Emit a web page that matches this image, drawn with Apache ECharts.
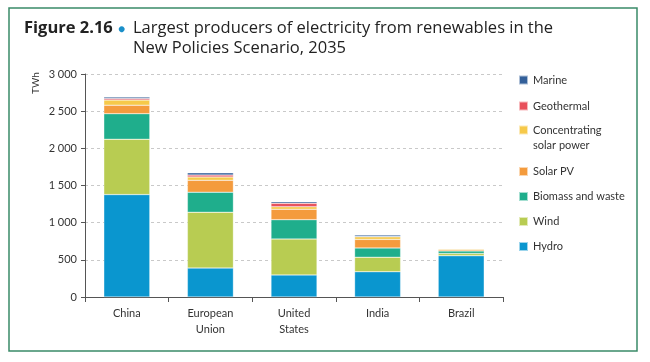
<!DOCTYPE html>
<html>
<head>
<meta charset="utf-8">
<script src="https://cdn.jsdelivr.net/npm/echarts@6/dist/echarts.min.js"></script>
<style>
html,body{margin:0;padding:0;background:#fff;}
#chart{width:650px;height:362px;}
</style>
</head>
<body>
<div id="chart"></div>
<script>
const categories = ['China', 'European\nUnion', 'United\nStates', 'India', 'Brazil'];
const hydro      = [1378, 390, 297, 340, 555];
const wind       = [744, 750, 483, 195, 30];
const biomass    = [344, 270, 260, 125, 35];
const solarPV    = [115, 160, 140, 115, 15];
const csp        = [68, 45, 35, 35, 15];
const geothermal = [20, 25, 45, 5, 0];
const marine     = [20, 30, 20, 20, 0];
const yTicks = [0, 500, 1000, 1500, 2000, 2500, 3000];

const FONT = 'Lato';
const TFONT = 'Open Sans';
const colors = {
  'Hydro': '#0a96cf',
  'Wind': '#b8cc52',
  'Biomass and waste': '#1fae8c',
  'Solar PV': '#f49b3d',
  'Concentrating solar power': '#f6c94a',
  'Geothermal': '#e8505b',
  'Marine': '#34609a'
};
const seriesDefs = [
  ['Hydro', hydro],
  ['Wind', wind],
  ['Biomass and waste', biomass],
  ['Solar PV', solarPV],
  ['Concentrating solar power', csp],
  ['Geothermal', geothermal],
  ['Marine', marine]
];

function fmtNum(v) {
  return String(v).replace(/\B(?=(\d{3})+(?!\d))/g, ' ');
}

const chart = echarts.init(document.getElementById('chart'), null, {renderer: 'canvas'});

const legendBase = {
  orient: 'vertical',
  left: 518,
  padding: 0,
  itemWidth: 9,
  itemHeight: 9,
  itemGap: 10,
  icon: 'rect',
  selectedMode: false,
  textStyle: {fontFamily: FONT, fontSize: 11, color: '#333', lineHeight: 15}
};

chart.setOption({
  animation: false,
  backgroundColor: '#fff',
  textStyle: {fontFamily: FONT},
  title: [
    {
      left: 24, top: 20, padding: 0,
      text: 'Figure 2.16',
      textStyle: {fontFamily: TFONT, fontWeight: 'bold', fontSize: 16.5, color: '#222'}
    },
    {
      left: 118, top: 20, padding: 0,
      text: '●',
      textStyle: {fontFamily: FONT, fontSize: 12, fontWeight: 'normal', color: '#1a8fc9', lineHeight: 19}
    },
    {
      left: 133, top: 20, padding: 0,
      text: 'Largest producers of electricity from renewables in the',
      textStyle: {fontFamily: TFONT, fontSize: 16.5, fontWeight: 'normal', color: '#222'}
    },
    {
      left: 133, top: 40, padding: 0,
      text: 'New Policies Scenario, 2035',
      textStyle: {fontFamily: TFONT, fontSize: 16.5, fontWeight: 'normal', color: '#222'}
    }
  ],
  legend: [
    Object.assign({}, legendBase, {top: 72.5, itemGap: 11, data: ['Marine', 'Geothermal']}),
    Object.assign({}, legendBase, {
      top: 107.5,
      data: ['Concentrating solar power'],
      formatter: function () { return '\nConcentrating\nsolar power'; }
    }),
    Object.assign({}, legendBase, {top: 164, data: ['Solar PV', 'Biomass and waste', 'Wind', 'Hydro']})
  ],
  graphic: [
    {
      type: 'rect', silent: true, z: -1,
      shape: {x: 9, y: 8, width: 628, height: 343},
      style: {fill: 'none', stroke: '#3a8a68', lineWidth: 1.5}
    },
    {
      type: 'text', x: 36, y: 94, rotation: Math.PI / 2,
      style: {text: 'TWh', fontFamily: FONT, fontSize: 10, fill: '#333', align: 'left', verticalAlign: 'middle'}
    }
  ],
  grid: {left: 85, right: 147, top: 74, bottom: 65, containLabel: false},
  xAxis: {
    type: 'category',
    data: categories,
    axisLine: {lineStyle: {color: '#555', width: 1}},
    axisTick: {show: true, length: 5, lineStyle: {color: '#555'}},
    axisLabel: {fontFamily: FONT, fontSize: 11, color: '#333', margin: 8, lineHeight: 16}
  },
  yAxis: {
    type: 'value',
    min: yTicks[0],
    max: yTicks[yTicks.length - 1],
    interval: 500,
    axisLine: {show: true, lineStyle: {color: '#555', width: 1}},
    axisTick: {show: true, length: 4, lineStyle: {color: '#555'}},
    axisLabel: {fontFamily: FONT, fontSize: 11, color: '#333', margin: 8, formatter: fmtNum},
    splitLine: {show: true, lineStyle: {color: '#bbb', type: [3, 3], width: 0.8}}
  },
  series: seriesDefs.map(([name, data]) => ({
    name: name,
    type: 'bar',
    stack: 'total',
    barWidth: 46,
    data: data,
    itemStyle: {color: colors[name], borderColor: 'rgba(255,255,255,0.6)', borderWidth: 0.5},
    emphasis: {disabled: true}
  }))
});
</script>
</body>
</html>
